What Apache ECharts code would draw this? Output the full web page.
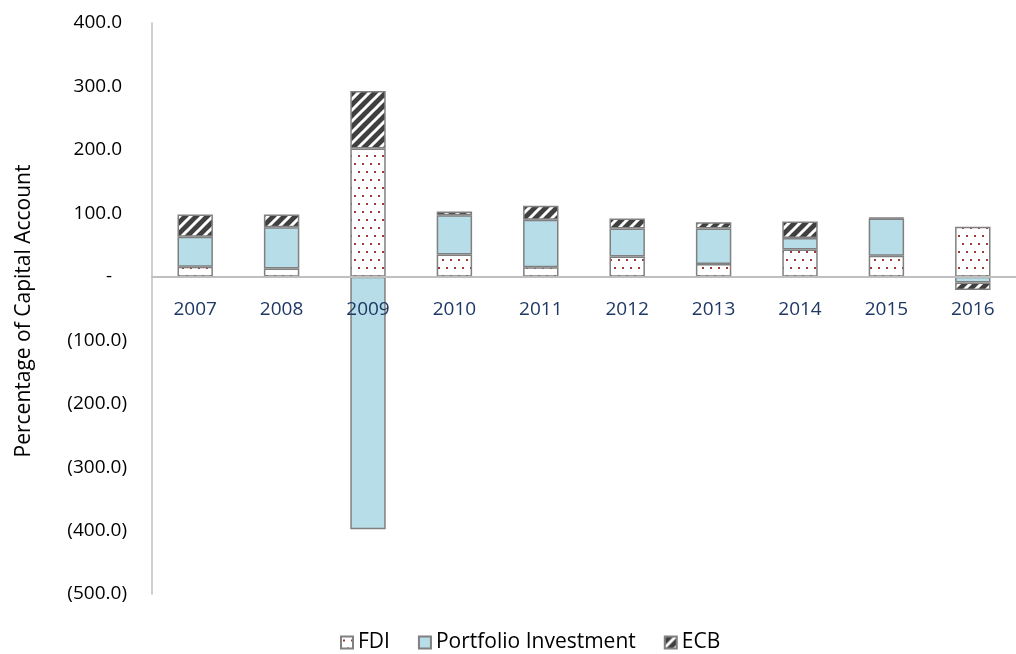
<!DOCTYPE html>
<html>
<head>
<meta charset="utf-8">
<script src="https://cdn.jsdelivr.net/npm/echarts@6/dist/echarts.min.js"></script>
<style>
  html, body { margin: 0; padding: 0; background: #fff; }
  #main { width: 1016px; height: 654px; }
</style>
</head>
<body>
<div id="main"></div>
<script>
  // data (percentage of capital account)
  var years = ['2007', '2008', '2009', '2010', '2011', '2012', '2013', '2014', '2015', '2016'];
  var fdi = [16, 13, 202, 35, 15, 32, 20, 43, 33, 79];
  var portfolio = [47, 65, -398, 62, 75, 44, 56, 18, 59, -9];
  var ecb = [35, 20, 91, 6, 22, 16, 10, 26, 1, -12];

  // dotted fill for FDI
  function dotPattern() {
    var c = document.createElement('canvas');
    c.width = 8; c.height = 16;
    var ctx = c.getContext('2d');
    ctx.fillStyle = '#ffffff';
    ctx.fillRect(0, 0, 8, 16);
    ctx.fillStyle = '#9b3a3a';
    ctx.fillRect(2, 3, 2, 2);
    ctx.fillRect(6, 11, 2, 2);
    return c;
  }

  // dark hatch for ECB
  function hatchPattern() {
    var s = 11;
    var c = document.createElement('canvas');
    c.width = s; c.height = s;
    var ctx = c.getContext('2d');
    ctx.fillStyle = '#404040';
    ctx.fillRect(0, 0, s, s);
    ctx.strokeStyle = '#ffffff';
    ctx.lineWidth = 3;
    ctx.beginPath();
    ctx.moveTo(-s, 2 * s); ctx.lineTo(2 * s, -s);
    ctx.moveTo(-2 * s, 2 * s); ctx.lineTo(s, -s);
    ctx.moveTo(0, 2 * s); ctx.lineTo(3 * s, -s);
    ctx.stroke();
    return c;
  }

  var font = 'Open Sans';
  var border = {borderColor: '#808080', borderWidth: 1.5};

  var chart = echarts.init(document.getElementById('main'));
  chart.setOption({
    animation: false,
    textStyle: {fontFamily: font},
    grid: {left: 152, right: -13, top: 23, bottom: 60},
    legend: {
      top: 627,
      left: 335,
      itemWidth: 12,
      itemHeight: 12,
      itemGap: 28,
      icon: 'rect',
      textStyle: {fontSize: 21, color: '#000', fontFamily: font},
      data: ['FDI', 'Portfolio Investment', 'ECB']
    },
    xAxis: {
      type: 'category',
      data: years,
      z: 10,
      offset: -317,
      axisTick: {show: false},
      axisLine: {onZero: false, lineStyle: {color: '#bfbfbf', width: 2}},
      axisLabel: {color: '#1f3864', fontSize: 19, margin: 23}
    },
    yAxis: {
      type: 'value',
      min: -500,
      max: 400,
      interval: 100,
      name: 'Percentage of Capital Account',
      nameLocation: 'middle',
      nameGap: 117,
      nameTextStyle: {fontSize: 21, color: '#000', padding: [0, 5, 0, 0]},
      splitLine: {show: false},
      axisTick: {show: false},
      axisLine: {show: true, lineStyle: {color: '#bfbfbf', width: 1.5}},
      axisLabel: {
        color: '#000',
        fontSize: 19,
        margin: 25,
        rich: {
          p: {fontSize: 19, fontFamily: font, color: '#000', padding: [0, 5, 0, 0]},
          z: {fontSize: 19, fontFamily: font, color: '#000', padding: [0, 15, 0, 0]}
        },
        formatter: function (v) {
          if (v === 0) return '{z|-}';
          if (v < 0) return '(' + Math.abs(v).toFixed(1) + ')';
          return '{p|' + v.toFixed(1) + '}';
        }
      }
    },
    series: [
      {
        name: 'FDI', type: 'bar', stack: 'cap', barWidth: '41%',
        itemStyle: Object.assign({color: {image: dotPattern(), repeat: 'repeat'}}, border),
        data: fdi
      },
      {
        name: 'Portfolio Investment', type: 'bar', stack: 'cap',
        itemStyle: Object.assign({color: '#b7dde8'}, border),
        data: portfolio
      },
      {
        name: 'ECB', type: 'bar', stack: 'cap',
        itemStyle: Object.assign({color: {image: hatchPattern(), repeat: 'repeat'}}, border),
        data: ecb
      }
    ]
  });
</script>
</body>
</html>
